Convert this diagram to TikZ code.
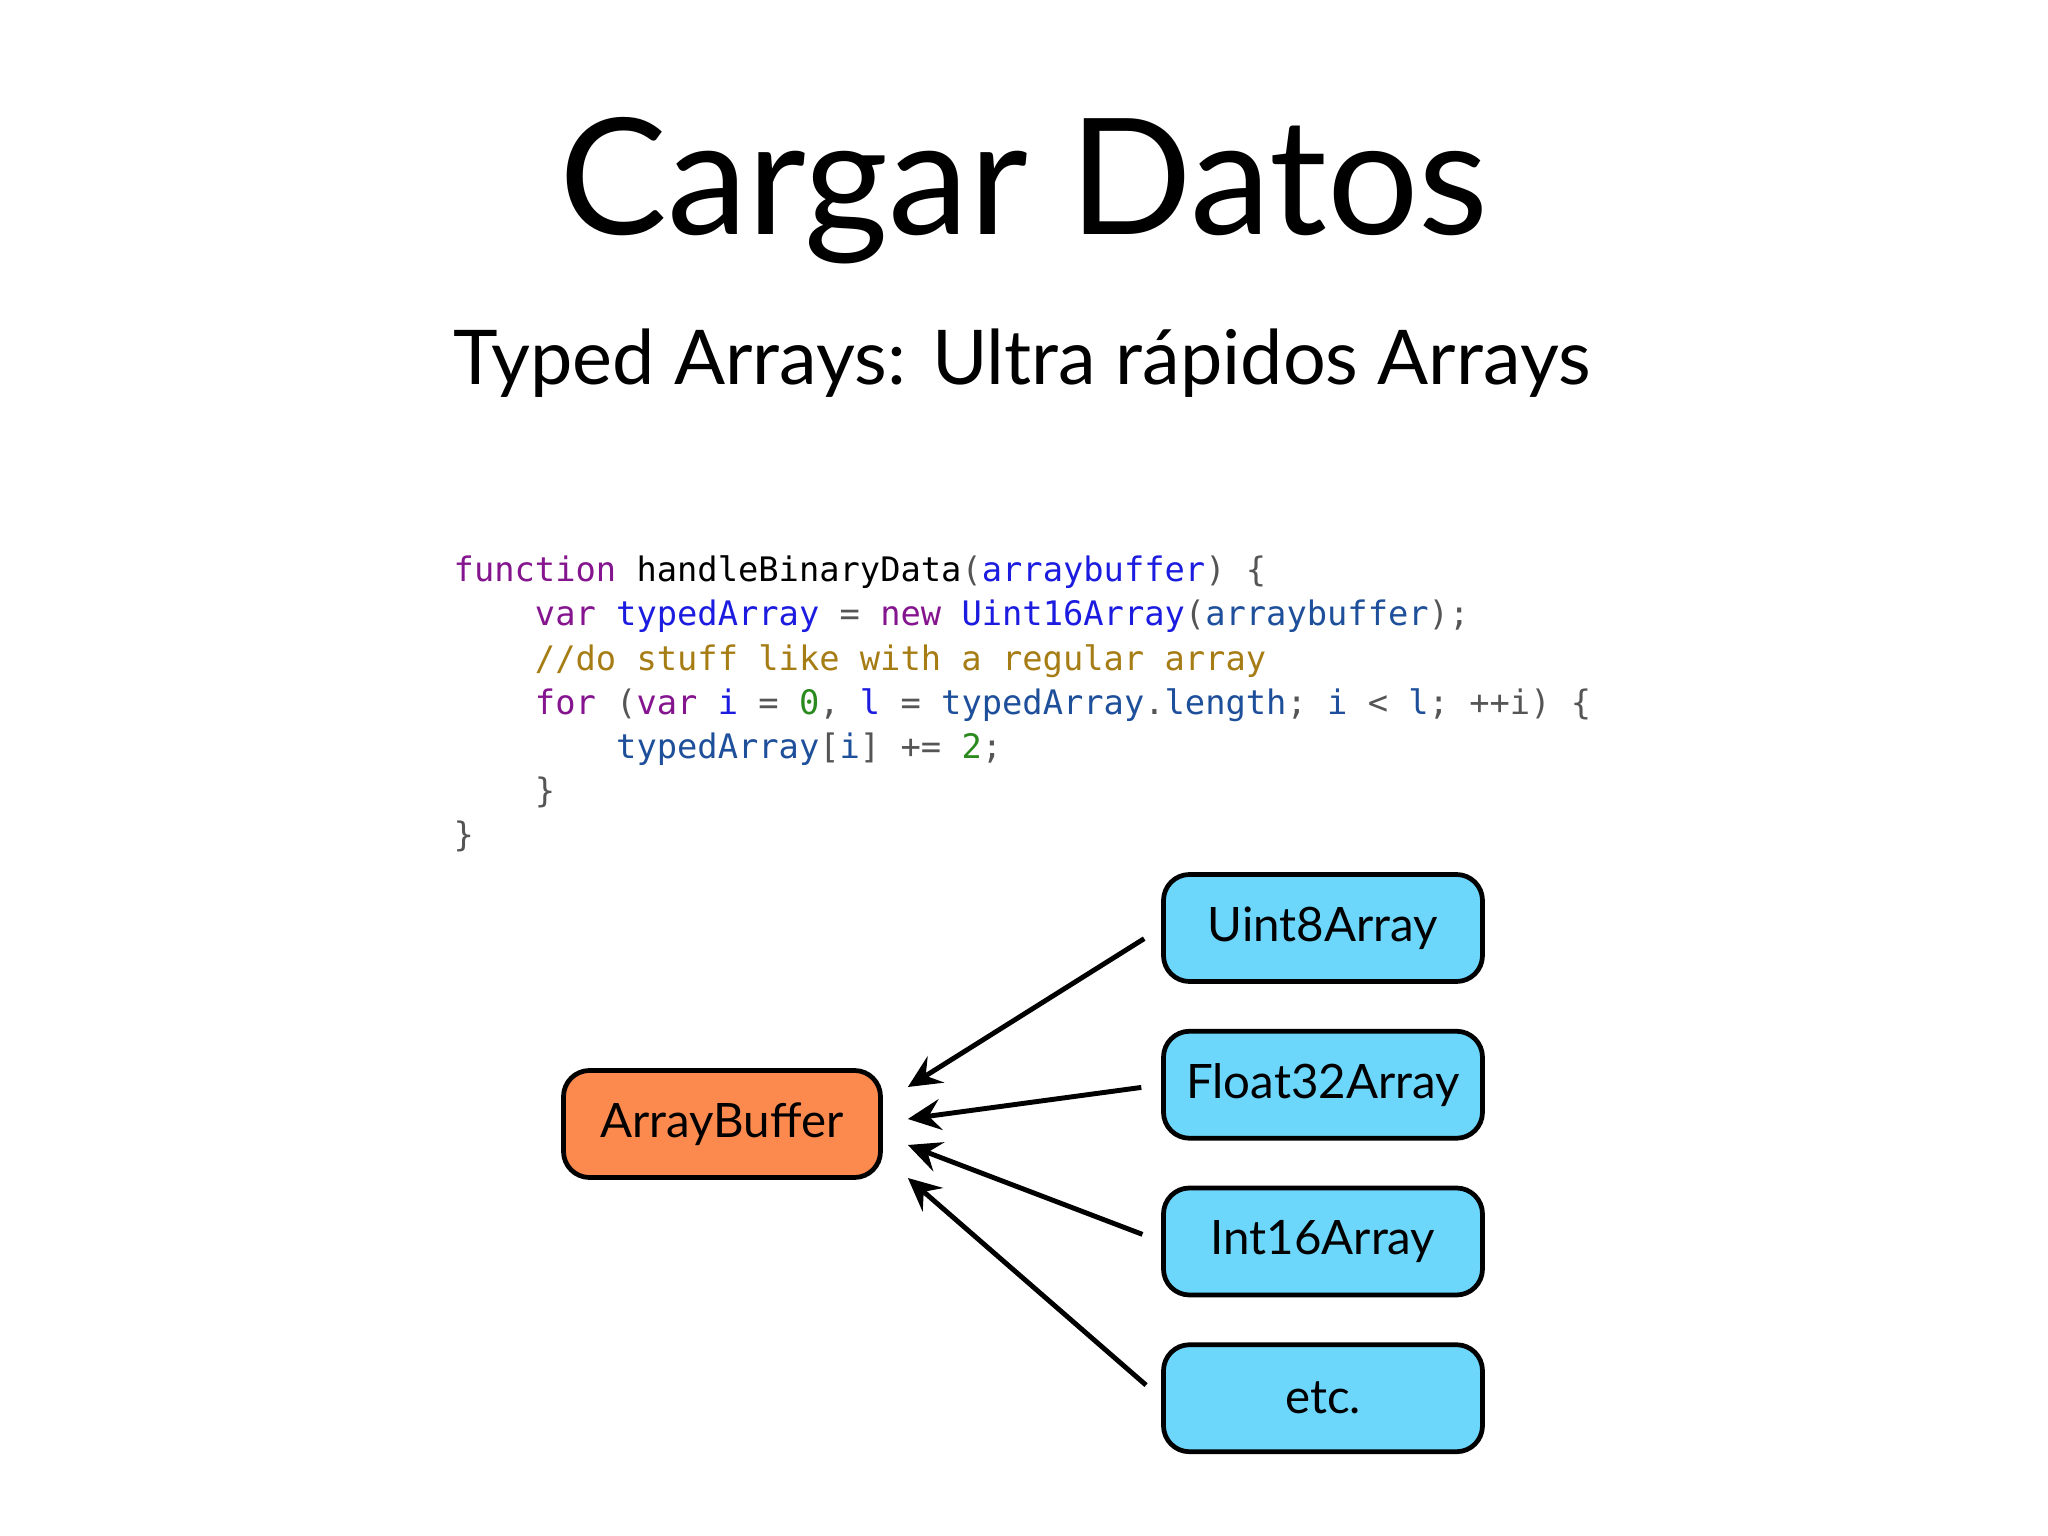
\documentclass[tikz,border=0pt]{standalone}
\usepackage{fontspec}
\setmainfont{Lato}
\newfontfamily\codefont{DejaVu Sans Mono}
\usepackage{tikz}
\usetikzlibrary{positioning,arrows.meta}
\definecolor{slideblue}{HTML}{6CD6FB}
\definecolor{slideorange}{HTML}{FC8A4F}
\definecolor{codekw}{HTML}{85158F}
\definecolor{codeid}{HTML}{1C1CE0}
\definecolor{codeuse}{HTML}{1E4F9A}
\definecolor{codecom}{HTML}{A67C14}
\definecolor{codenum}{HTML}{2A8A1E}
\definecolor{codepun}{HTML}{555555}
\newcommand{\ckw}[1]{\textcolor{codekw}{#1}}
\newcommand{\cid}[1]{\textcolor{codeid}{#1}}
\newcommand{\cuse}[1]{\textcolor{codeuse}{#1}}
\newcommand{\ccom}[1]{\textcolor{codecom}{#1}}
\newcommand{\cnum}[1]{\textcolor{codenum}{#1}}
\newcommand{\cpun}[1]{\textcolor{codepun}{#1}}
\newcommand{\codeindent}{\phantom{xxxx}}

\begin{document}
\begin{tikzpicture}[
    arraybox/.style={draw=black,line width=1.35pt,rounded corners=2.6mm,fill=slideblue,
                     minimum width=3.19cm,minimum height=1.07cm,inner sep=2pt,
                     font=\fontsize{13.5}{16}\selectfont},
    arr/.style={-{Stealth[length=3.3mm,width=3.1mm,inset=1.2mm]},line width=1.4pt,
                shorten <=2mm},
  ]
    \useasboundingbox (0,0) rectangle (20.48,-15.36);
    \node[anchor=base,font=\fontsize{46}{50}\selectfont] (title) at (10.24,-2.35) {Cargar Datos};
    \node[anchor=base,font=\fontsize{21.5}{26}\selectfont] (subtitle) at (10.22,-3.85) {Typed Arrays: Ultra rápidos Arrays};

    \node[anchor=base west,align=left,inner sep=0pt,
          font=\codefont\fontsize{9.6}{12.58}\selectfont] (code) at (4.53,-8.47)
      {\ckw{function} handleBinaryData\cpun{(}\cid{arraybuffer}\cpun{) \{}\\
       \codeindent\ckw{var} \cid{typedArray} \cpun{=} \ckw{new} \cid{Uint16Array}\cpun{(}\cuse{arraybuffer}\cpun{);}\\
       \codeindent\ccom{//do stuff like with a regular array}\\
       \codeindent\ckw{for} \cpun{(}\ckw{var} \cid{i} \cpun{=} \cnum{0}\cpun{,} \cid{l} \cpun{=} \cuse{typedArray}\cpun{.}\cuse{length}\cpun{;} \cuse{i} \cpun{<} \cuse{l}\cpun{;} \cpun{++i) \{}\\
       \codeindent\codeindent\cuse{typedArray}\cpun{[}\cuse{i}\cpun{]} \cpun{+=} \cnum{2}\cpun{;}\\
       \codeindent\cpun{\}}\\
       \cpun{\}}};

    \node[arraybox] (u8) at (13.23,-9.28) {Uint8Array};
    \node[arraybox,below=0.45cm of u8]  (f32) {Float32Array};
    \node[arraybox,below=0.45cm of f32] (i16) {Int16Array};
    \node[arraybox,below=0.45cm of i16] (etc) {etc.};
    \node[arraybox,fill=slideorange,minimum width=3.17cm] (ab) at (7.22,-11.24) {ArrayBuffer};

    \draw[arr] (u8.west)  -- ([shift={(2.5mm,3.7mm)}]ab.east);
    \draw[arr] (f32.west) -- ([shift={(2.5mm,0.5mm)}]ab.east);
    \draw[arr] (i16.west) -- ([shift={(2.5mm,-2.1mm)}]ab.east);
    \draw[arr] (etc.west) -- ([shift={(2.5mm,-5.4mm)}]ab.east);
  \end{tikzpicture}
\end{document}
